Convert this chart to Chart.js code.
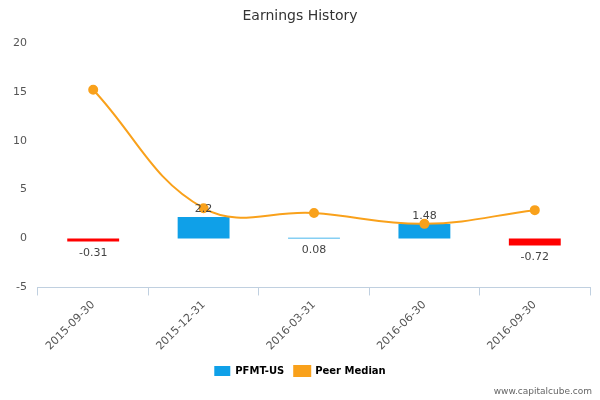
<!DOCTYPE html>
<html><head><meta charset="utf-8">
<script src="https://cdn.jsdelivr.net/npm/chart.js@4"></script>
<style>body{margin:0;background:#fff}#w{width:600px;height:400px;position:relative}
.src{position:absolute;right:8px;bottom:4px;font:9px "DejaVu Sans";color:#666}</style>
</head><body><div id="w"><canvas id="c" width="600" height="400"></canvas><div class="src">www.capitalcube.com</div></div>
<script>
const labels = ['2015-09-30','2015-12-31','2016-03-31','2016-06-30','2016-09-30'];
const company = [-0.31, 2.2, 0.08, 1.48, -0.72];
const peer = [15.2, 3.1, 2.6, 1.5, 2.9];
const yTicks = [-5, 0, 5, 10, 15, 20];

const barLabels = {
  id: 'barLabels',
  afterDatasetsDraw(chart) {
    const ctx = chart.ctx, meta = chart.getDatasetMeta(0);
    ctx.save();
    ctx.font = '11px "DejaVu Sans"'; ctx.fillStyle = '#444'; ctx.textAlign = 'center';
    meta.data.forEach((b, i) => {
      const v = company[i];
      const above = v > 1;
      ctx.textBaseline = above ? 'bottom' : 'top';
      const y = above ? b.y - 2 : Math.max(b.y, b.base) + 6;
      ctx.fillText(String(v), b.x, y);
    });
    ctx.restore();
  }
};

new Chart(document.getElementById('c'), {
  data: {
    labels,
    datasets: [
      { type: 'bar', label: 'PFMT-US', data: company, order: 2,
        backgroundColor: company.map(v => v < 0 ? '#ff0000' : '#0fa0e8'),
        barPercentage: 0.47, categoryPercentage: 1 },
      { type: 'line', label: 'Peer Median', data: peer, order: 1,
        borderColor: '#f9a11b', backgroundColor: '#f9a11b', borderWidth: 2,
        pointRadius: 4, pointHoverRadius: 4, tension: 0.4 }
    ]
  },
  options: {
    responsive: false, animation: false,
    layout: { padding: { left: 10, right: 10, top: 0, bottom: 14 } },
    plugins: {
      title: { display: true, text: 'Earnings History', color: '#333', font: { family: 'DejaVu Sans', size: 14, weight: 'normal' }, padding: { top: 8, bottom: 18 } },
      legend: { position: 'bottom', labels: { font: { family: 'DejaVu Sans', size: 10, weight: 'bold' }, color: '#333', boxWidth: 16, boxHeight: 10,
        generateLabels: () => [
          { text: 'PFMT-US', fillStyle: '#0fa0e8', strokeStyle: '#0fa0e8', lineWidth: 0 },
          { text: 'Peer Median', fillStyle: '#f9a11b', strokeStyle: '#f9a11b', lineWidth: 2, pointStyle: 'line' }
        ] }, padding: { top: 10 } },
      tooltip: { enabled: false }
    },
    scales: {
      x: { grid: { display: true, drawOnChartArea: false, offset: true, color: '#c0d0e0', tickLength: 8 },
        border: { color: '#c0d0e0' },
        ticks: { maxRotation: 45, minRotation: 45, color: '#555', font: { family: 'DejaVu Sans', size: 11 } } },
      y: { min: -5, max: 20, grid: { display: false }, border: { display: false },
        afterBuildTicks: a => { a.ticks = yTicks.map(v => ({ value: v })); },
        ticks: { color: '#555', font: { family: 'DejaVu Sans', size: 11 } } }
    }
  },
  plugins: [barLabels]
});
</script></body></html>
